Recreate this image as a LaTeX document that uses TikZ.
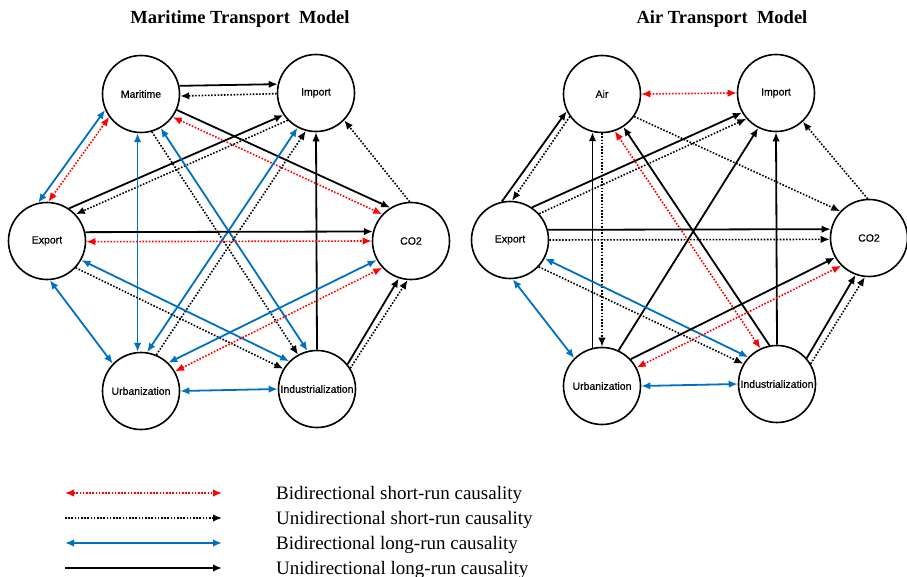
\documentclass[tikz,border=0pt]{standalone}
\usepackage{fontspec}
\setmainfont{Liberation Serif}
\setsansfont{Liberation Sans}
\newfontfamily\varfont{Liberation Sans}[FakeBold=0.5]
\usetikzlibrary{arrows.meta}
\definecolor{lrblue}{RGB}{0,112,192}
\definecolor{srred}{RGB}{255,0,0}

\begin{document}
\begin{tikzpicture}[
    x=1pt, y=-1pt,
    var/.style={circle, draw, line width=1.6pt, minimum size=77pt, inner sep=0pt,
        font=\varfont\fontsize{10.5}{12}\selectfont},
    tip/.style={-{Latex[length=9pt,width=7.5pt]}},
    bitip/.style={{Latex[length=9pt,width=7.5pt]}-{Latex[length=9pt,width=7.5pt]}},
    longuni/.style={tip, line width=1.8pt, black},
    shortuni/.style={tip, line width=1.6pt, black, dash pattern=on 1.6pt off 1.6pt},
    longbi/.style={bitip, line width=1.8pt, lrblue},
    shortbi/.style={bitip, line width=1.6pt, srred, dash pattern=on 1.6pt off 1.6pt},
    title/.style={font=\bfseries\fontsize{18.5}{22}\selectfont, anchor=base},
    legtext/.style={font=\fontsize{19}{22}\selectfont, anchor=base west, inner sep=0pt},
    ]
    \useasboundingbox (0,0) rectangle (907,577);

    \node[title] (t1) at (240,23.5) {Maritime Transport\ \ Model};
    \node[title] (t2) at (722,23.5) {Air Transport\ \ Model};

    \node[var] (mar) at (141,94) {Maritime};
    \node[var] (imp) at (316,93) {Import};
    \node[var] (exp) at (47,241) {Export};
    \node[var] (co) at (411,241) {CO2};
    \node[var] (urb) at (141,391) {Urbanization};
    \node[var] (ind) at (317,389) {Industrialization};

    \draw[longuni] (mar.12) -- (imp.167);
    \draw[shortuni] (imp.181) -- (mar.-3);
    \draw[longbi] (exp.103) -- (mar.204);
    \draw[shortbi] (exp.88) -- (mar.216);
    \draw[longuni] (mar.-24) -- (co.122);
    \draw[shortbi] (mar.-36) -- (co.137);
    \draw[longuni] (exp.56) -- (imp.214);
    \draw[shortuni] (imp.224) -- (exp.43);
    \draw[longbi] (mar.-95) -- (urb.95);
    \draw[longbi] (mar.-60) -- (ind.104);
    \draw[shortuni] (mar.-74) -- (ind.119);
    \draw[longbi] (imp.242) -- (urb.81);
    \draw[shortuni] (urb.67) -- (imp.255);
    \draw[longuni] (ind.north) -- (imp.south);
    \draw[shortuni] (co.92) -- (imp.-44);
    \draw[longuni] (exp.13) -- (co.166);
    \draw[shortbi] (exp.-1) -- (co.180);
    \draw[longbi] (exp.-86) -- (urb.136);
    \draw[longbi] (exp.-29) -- (ind.135);
    \draw[shortuni] (exp.-43) -- (ind.149);
    \draw[longbi] (urb.46) -- (co.209);
    \draw[shortbi] (urb.30) -- (co.223);
    \draw[longbi] (urb.east) -- (ind.west);
    \draw[longuni] (ind.39) -- (co.252);
    \draw[shortuni] (ind.32) -- (co.265);

    \node[var] (air) at (602,94) {Air};
    \node[var] (imp2) at (776,93) {Import};
    \node[var] (exp2) at (510,240) {Export};
    \node[var] (co2) at (869,238) {CO2};
    \node[var] (urb2) at (602,386) {Urbanization};
    \node[var] (ind2) at (777,384) {Industrialization};

    \draw[shortbi] (air.east) -- (imp2.west);
    \draw[longuni] (exp2.102) -- (air.206);
    \draw[shortuni] (air.215) -- (exp2.87);
    \draw[longuni] (exp2.56) -- (imp2.210);
    \draw[shortuni] (exp2.42) -- (imp2.221);
    \draw[shortuni] (air.-35) -- (co2.137);
    \draw[shortuni] (co2.92) -- (imp2.-47);
    \draw[longuni] (urb2.104) -- (air.256);
    \draw[shortuni] (air.south) -- (urb2.north);
    \draw[shortbi] (air.-71) -- (ind2.115);
    \draw[longuni] (ind2.101) -- (air.-57);
    \draw[longuni] (urb2.65) -- (imp2.243);
    \draw[longuni] (ind2.north) -- (imp2.south);
    \draw[longuni] (exp2.15) -- (co2.167);
    \draw[shortuni] (exp2.0) -- (co2.182);
    \draw[longbi] (exp2.-28) -- (ind2.137);
    \draw[shortuni] (exp2.-43) -- (ind2.149);
    \draw[longbi] (exp2.-86) -- (urb2.135);
    \draw[longuni] (urb2.43) -- (co2.210);
    \draw[shortbi] (urb2.28) -- (co2.225);
    \draw[longbi] (urb2.east) -- (ind2.west);
    \draw[longuni] (ind2.41) -- (co2.250);
    \draw[shortuni] (ind2.31) -- (co2.264);

    \foreach \sty/\txt [count=\i] in {shortbi/Bidirectional short-run causality,
        shortuni/Unidirectional short-run causality,
        longbi/Bidirectional long-run causality,
        longuni/Unidirectional long-run causality} {
        \coordinate (l\i a) at (65,468+25*\i);
        \coordinate (l\i b) at (222,468+25*\i);
        \draw[\sty] (l\i a) -- (l\i b);
        \node[legtext] (leg\i) at (276,474+25*\i) {\txt};
    }
\end{tikzpicture}
\end{document}
